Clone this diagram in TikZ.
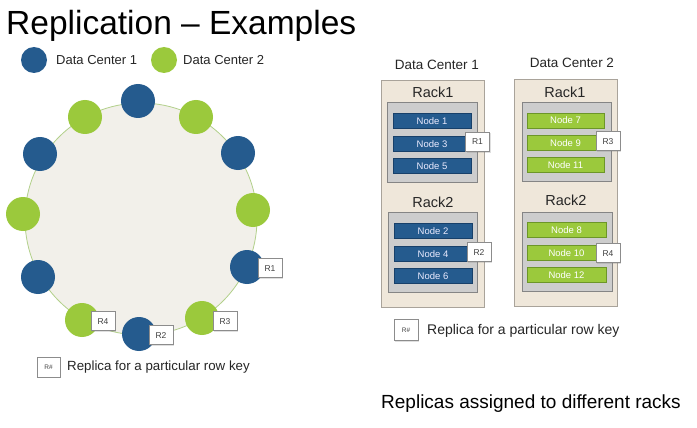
\documentclass[tikz,border=0pt]{standalone}
\usepackage{fontspec}
\setmainfont{Liberation Sans}
\usetikzlibrary{shadows}
\begin{document}
\definecolor{dcblue}{HTML}{255B8E}
\definecolor{dcblueedge}{HTML}{17406A}
\definecolor{dcgreen}{HTML}{9BC93C}
\definecolor{dcgreenedge}{HTML}{6C9628}
\definecolor{ringfill}{HTML}{F2F0EA}
\definecolor{ringline}{HTML}{B2D08A}
\definecolor{dcfill}{HTML}{EFE7DA}
\definecolor{dcedge}{HTML}{A9A39A}
\definecolor{rackfill}{HTML}{CDCDCD}
\definecolor{rackedge}{HTML}{858585}
\definecolor{tagedge}{HTML}{8C8C8C}
\begin{tikzpicture}[x=1pt,y=-1pt,
  bluedot/.style={circle,fill=dcblue,minimum size=34pt,inner sep=0pt},
  greendot/.style={circle,fill=dcgreen,minimum size=34pt,inner sep=0pt},
  tag/.style={draw=tagedge,fill=white,line width=0.6pt,minimum width=24pt,minimum height=19pt,
    inner sep=0pt,font=\fontsize{8.5}{9}\selectfont,text=black!75,
    text height=6pt,text depth=0pt,
    drop shadow={opacity=0.25,shadow xshift=1pt,shadow yshift=-1pt}},
  legtag/.style={tag,minimum width=23pt,minimum height=20pt,font=\fontsize{6.5}{7}\selectfont,
    text height=5pt},
  dcbox/.style={draw=dcedge,fill=dcfill,line width=0.8pt},
  rackbox/.style={draw=rackedge,fill=rackfill,line width=0.8pt},
  barbase/.style={line width=0.8pt,font=\fontsize{9.5}{10}\selectfont,minimum height=15pt,
    inner sep=0pt,text height=7pt,text depth=0pt},
  bluebar/.style={barbase,draw=dcblueedge,fill=dcblue,text=white!92!blue},
  greenbar/.style={barbase,draw=dcgreenedge,fill=dcgreen,text=white},
  label/.style={inner sep=0pt,text=black!85},
]
\useasboundingbox (0,0) rectangle (697,428);
\fill[white] (0,0) rectangle (697,428);

% title
\node[anchor=base west,inner sep=0pt,font=\fontsize{33.5}{38}\selectfont] (title) at (6,35) {Replication – Examples};

% colour legend
\node[bluedot,minimum size=26pt] (legblue) at (34,60) {};
\node[label,anchor=west,font=\fontsize{13}{15}\selectfont] (legbluetxt) at (56,60) {Data Center 1};
\node[greendot,minimum size=26pt] (leggreen) at (164,60) {};
\node[label,anchor=west,font=\fontsize{13}{15}\selectfont] (leggreentxt) at (183,60) {Data Center 2};

% token ring
\node[circle,draw=ringline,fill=ringfill,line width=0.8pt,minimum size=232pt,inner sep=0pt] (ring) at (141,219) {};
\node[bluedot]  (n1)  at (138,101) {};
\node[greendot] (n2)  at (196,117) {};
\node[bluedot]  (n3)  at (238,153) {};
\node[greendot] (n4)  at (253,210) {};
\node[bluedot]  (n5)  at (247,267) {};
\node[greendot] (n6)  at (202,318) {};
\node[bluedot]  (n7)  at (139,334) {};
\node[greendot] (n8)  at (82,320) {};
\node[bluedot]  (n9)  at (38,277) {};
\node[greendot] (n10) at (23,214) {};
\node[bluedot]  (n11) at (40,154) {};
\node[greendot] (n12) at (85,117) {};

% replica tags on the ring
\node[tag] (r1) at (270,268) {R1};
\node[tag] (r3) at (225,321) {R3};
\node[tag] (r2) at (161,335) {R2};
\node[tag] (r4) at (103,321) {R4};

% replica legend (ring)
\node[legtag] (legtagA) at (48.5,367) {R\#};
\node[label,anchor=west,font=\fontsize{13.3}{15}\selectfont] (legtxtA) at (67,367) {Replica for a particular row key};

% data centers
\node[label,font=\fontsize{13.5}{15}\selectfont] (dc1lbl) at (437,65) {Data Center 1};
\node[label,font=\fontsize{13.5}{15}\selectfont] (dc2lbl) at (572,63) {Data Center 2};
\path[dcbox] (381,80) rectangle (484,307);
\path[dcbox] (514,79) rectangle (617,306);

% data center 1 racks
\node[label,font=\fontsize{14.5}{16}\selectfont] (dc1r1) at (433,92) {Rack1};
\path[rackbox] (387,102) rectangle (477,182);
\node[bluebar,minimum width=78pt] (nd1) at (432,121) {Node 1};
\node[bluebar,minimum width=78pt] (nd3) at (432,143.5) {Node 3};
\node[bluebar,minimum width=78pt] (nd5) at (432,165.5) {Node 5};
\node[tag] (t1) at (477.5,142) {R1};

\node[label,font=\fontsize{14.5}{16}\selectfont] (dc1r2) at (433,202) {Rack2};
\path[rackbox] (388,212) rectangle (477,292);
\node[bluebar,minimum width=78pt] (nd2) at (433,230.5) {Node 2};
\node[bluebar,minimum width=78pt] (nd4) at (433,253.5) {Node 4};
\node[bluebar,minimum width=78pt] (nd6) at (433,275.5) {Node 6};
\node[tag] (t2) at (479,252) {R2};

% data center 2 racks
\node[label,font=\fontsize{14.5}{16}\selectfont] (dc2r1) at (565,92) {Rack1};
\path[rackbox] (522,102) rectangle (611,181);
\node[greenbar,minimum width=77pt] (nd7)  at (565.5,120.5) {Node 7};
\node[greenbar,minimum width=77pt] (nd9)  at (565.5,143) {Node 9};
\node[greenbar,minimum width=77pt] (nd11) at (565.5,164.5) {Node 11};
\node[tag] (t3) at (608,141) {R3};

\node[label,font=\fontsize{14.5}{16}\selectfont] (dc2r2) at (566,200) {Rack2};
\path[rackbox] (522,212) rectangle (612,291);
\node[greenbar,minimum width=79pt] (nd8)  at (566.5,230) {Node 8};
\node[greenbar,minimum width=79pt] (nd10) at (566.5,252.5) {Node 10};
\node[greenbar,minimum width=79pt] (nd12) at (566.5,274.5) {Node 12};
\node[tag] (t4) at (608,253) {R4};

% replica legend (racks)
\node[legtag,minimum width=24pt,minimum height=21pt] (legtagB) at (406,330) {R\#};
\node[label,anchor=west,font=\fontsize{14}{16}\selectfont] (legtxtB) at (427,331) {Replica for a particular row key};

% caption
\node[label,anchor=west,font=\fontsize{19}{22}\selectfont,text=black] (caption) at (381,404) {Replicas assigned to different racks};
\end{tikzpicture}
\end{document}
